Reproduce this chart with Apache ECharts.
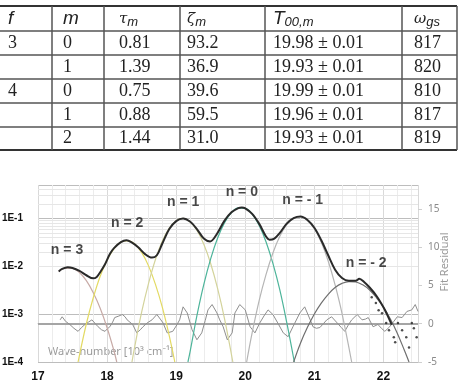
<!DOCTYPE html>
<html>
<head>
<meta charset="utf-8">
<script src="https://cdn.jsdelivr.net/npm/echarts@6/dist/echarts.min.js"></script>
<style>
html,body{margin:0;padding:0;background:#fff;}
#main{width:459px;height:390px;}
</style>
</head>
<body>
<div id="main"></div>
<script>
// ---- table values ----
var colF = ['3', '', '4', '', ''];
var colM = ['0', '1', '0', '1', '2'];
var colTau = ['0.81', '1.39', '0.75', '0.88', '1.44'];
var colZeta = ['93.2', '36.9', '39.6', '59.5', '31.0'];
var colT00 = ['19.98 \u00b1 0.01', '19.93 \u00b1 0.01', '19.99 \u00b1 0.01', '19.96 \u00b1 0.01', '19.93 \u00b1 0.01'];
var colOmega = ['817', '820', '810', '817', '819'];

// ---- spectrum (x = wave-number 10^3 cm-1) ----
var measured = [
  [17.30,0.0078],[17.35,0.0088],[17.43,0.0095],[17.50,0.0092],[17.60,0.0080],[17.70,0.0065],
  [17.80,0.0056],[17.85,0.0060],[17.90,0.0075],[17.97,0.0110],[18.04,0.0180],[18.10,0.0240],
  [18.20,0.0320],[18.28,0.0350],[18.35,0.0320],[18.45,0.0250],[18.55,0.0180],[18.65,0.0152],
  [18.72,0.0170],[18.80,0.0300],[18.90,0.0600],[19.00,0.0880],[19.10,0.1000],[19.20,0.0860],
  [19.30,0.0600],[19.40,0.0380],[19.49,0.0330],[19.58,0.0450],[19.70,0.0900],[19.80,0.1350],
  [19.90,0.1650],[19.95,0.1700],[20.00,0.1630],[20.10,0.1250],[20.20,0.0780],[20.30,0.0420],
  [20.35,0.0360],[20.42,0.0380],[20.50,0.0500],[20.60,0.0780],[20.70,0.1020],[20.80,0.1100],
  [20.90,0.0930],[21.00,0.0640],[21.10,0.0350],[21.20,0.0170],[21.30,0.0085],[21.40,0.0057],
  [21.50,0.0050],[21.60,0.0050],[21.65,0.0055],[21.72,0.0047],[21.80,0.0036],[21.90,0.0024],
  [22.00,0.0014],[22.05,0.0010],[22.12,0.0006]
];
var tailDots = [
  [21.83,0.00226],[21.89,0.0017],[21.93,0.0012],[21.98,0.00105],[22.04,0.00065],[22.08,0.00046],
  [22.15,0.00033],[22.17,0.00026],[22.21,0.00065],[22.27,0.00046],[22.33,0.00033],[22.37,0.0002],
  [22.41,0.00065],[22.44,0.00051],[22.48,0.00033]
];
var fitN3 = [
  [17.30,0.0078],[17.40,0.0092],[17.50,0.0090],[17.60,0.0074],[17.70,0.0050],[17.80,0.0028],
  [17.90,0.00133],[18.00,0.00052],[18.10,0.00017],[18.14,0.0001]
];
var fitN2 = [
  [17.58,0.0001],[17.70,0.00063],[17.80,0.0022],[17.90,0.0062],[18.00,0.0136],[18.10,0.0235],
  [18.20,0.0321],[18.30,0.0345],[18.40,0.0292],[18.50,0.0195],[18.60,0.0102],[18.70,0.0042],
  [18.80,0.00138],[18.90,0.00035],[18.98,0.0001]
];
var fitN1 = [
  [18.36,0.0001],[18.40,0.00021],[18.50,0.0011],[18.60,0.0044],[18.70,0.0139],[18.80,0.0336],
  [18.90,0.0627],[19.00,0.090],[19.10,0.100],[19.20,0.0855],[19.30,0.0565],[19.40,0.0288],
  [19.50,0.0113],[19.60,0.0034],[19.70,0.0008],[19.82,0.0001]
];
var fitN0 = [
  [19.17,0.0001],[19.20,0.00016],[19.30,0.00093],[19.40,0.0042],[19.50,0.0145],[19.60,0.039],
  [19.70,0.0817],[19.80,0.132],[19.90,0.166],[20.00,0.162],[20.10,0.123],[20.20,0.072],
  [20.30,0.0327],[20.40,0.0115],[20.50,0.0032],[20.60,0.00067],[20.71,0.0001]
];
var fitNm1 = [
  [20.02,0.0001],[20.10,0.00041],[20.20,0.0019],[20.30,0.0067],[20.40,0.019],[20.50,0.0425],
  [20.60,0.074],[20.70,0.101],[20.80,0.109],[20.90,0.092],[21.00,0.061],[21.10,0.0317],
  [21.20,0.0129],[21.30,0.0041],[21.40,0.00104],[21.54,0.0001]
];
var fitNm2 = [
  [20.70,0.0001],[20.80,0.00025],[20.90,0.00053],[21.00,0.00101],[21.10,0.0017],[21.20,0.0026],
  [21.30,0.0036],[21.40,0.0044],[21.50,0.0048],[21.60,0.0047],[21.70,0.0041],[21.80,0.0032],
  [21.90,0.0022],[22.00,0.0014],[22.10,0.00079],[22.20,0.0004],[22.30,0.00018],[22.37,0.0001]
];
var residual = [
  [17.32,0.5],[17.35,0.9],[17.40,0.3],[17.46,-0.1],[17.52,-0.6],[17.58,-1.0],[17.63,-0.5],
  [17.68,-0.1],[17.73,0.2],[17.78,0.5],[17.83,0.0],[17.87,-0.4],[17.92,-0.8],[17.97,-1.0],
  [18.00,-0.7],[18.04,-0.4],[18.08,0.2],[18.11,0.8],[18.17,1.0],[18.22,1.2],[18.26,0.9],
  [18.29,0.5],[18.33,0.2],[18.37,-0.1],[18.43,-1.2],[18.48,-0.8],[18.52,-0.4],[18.58,0.1],
  [18.65,0.5],[18.72,1.2],[18.77,0.6],[18.81,0.1],[18.87,-1.2],[18.91,-1.1],[18.95,-1.0],
  [19.00,-0.3],[19.05,0.5],[19.10,2.2],[19.16,1.4],[19.23,-0.8],[19.30,-2.1],[19.37,-1.2],
  [19.42,0.4],[19.46,1.8],[19.52,2.5],[19.59,1.4],[19.63,0.5],[19.68,-0.4],[19.74,-2.1],
  [19.81,-1.2],[19.85,1.4],[19.92,2.5],[20.00,1.8],[20.07,-0.4],[20.14,-1.2],[20.21,0.1],
  [20.27,1.0],[20.33,1.8],[20.40,1.2],[20.47,0.1],[20.55,-1.2],[20.62,-1.7],[20.69,-0.4],
  [20.79,1.4],[20.86,2.2],[20.94,0.5],[20.98,-0.4],[21.03,-0.6],[21.08,-0.5],[21.13,0.0],
  [21.18,0.5],[21.25,0.9],[21.33,0.1],[21.39,-0.5],[21.44,-1.0],[21.49,-0.2],[21.54,0.5],
  [21.62,1.2],[21.69,0.5],[21.74,0.6],[21.78,0.8],[21.85,-0.4],[21.92,-0.1],[21.97,-0.6],
  [22.02,-1.0],[22.09,-0.4],[22.15,0.3],[22.20,0.9],[22.27,0.8],[22.34,1.6],[22.41,1.8],
  [22.46,2.5],[22.50,1.6]
];
var peakLabels = [
  [17.42,0.0215,'n = 3'],[18.29,0.0787,'n = 2'],[19.10,0.215,'n = 1'],
  [19.95,0.348,'n = 0'],[20.83,0.237,'n = - 1'],[21.75,0.0115,'n = - 2']
];
// minor log grid values
var logMinor = [];
[1e-4, 1e-3, 1e-2, 1e-1].forEach(function (d) {
  for (var k = 2; k <= 9; k++) if (k * d < 0.5) logMinor.push(+(k * d).toPrecision(2));
});

// ---- table drawing ----
var colX = [8, 63, 119, 187, 273, 414];
var rowY = [43, 67, 91, 115, 138];
var hLines = [31, 55, 79, 103, 127];
var vLines = [52, 104, 180, 265, 402, 457];
var tbl = [];
var lineSt = {stroke: '#555', lineWidth: 1.5};
tbl.push({type: 'line', shape: {x1: 0, y1: 6, x2: 457, y2: 6}, style: {stroke: '#333', lineWidth: 2}});
tbl.push({type: 'line', shape: {x1: 0, y1: 150, x2: 457, y2: 150}, style: {stroke: '#333', lineWidth: 2}});
hLines.forEach(function (y) {
  tbl.push({type: 'line', shape: {x1: 0, y1: y, x2: 457, y2: y}, style: lineSt});
});
vLines.forEach(function (x) {
  tbl.push({type: 'line', shape: {x1: x, y1: 6, x2: x, y2: 150}, style: lineSt});
});
var sub = {fontFamily: 'Liberation Sans', fontStyle: 'italic', fontSize: 13, fill: '#222', verticalAlign: 'bottom', padding: [6, 0, 0, 0]};
var headers = [
  {text: '{a|f}', rich: {a: {fontFamily: 'Liberation Sans', fontStyle: 'italic', fontSize: 19, fill: '#222'}}},
  {text: '{a|m}', rich: {a: {fontFamily: 'Liberation Sans', fontStyle: 'italic', fontSize: 19, fill: '#222'}}},
  {text: '{a|\u03c4}{s|m}', rich: {a: {fontFamily: 'DejaVu Serif', fontStyle: 'italic', fontSize: 15, fill: '#222'}, s: sub}},
  {text: '{a|\u03b6}{s|m}', rich: {a: {fontFamily: 'DejaVu Serif', fontStyle: 'italic', fontSize: 15, fill: '#222'}, s: sub}},
  {text: '{a|T}{s|00,m}', rich: {a: {fontFamily: 'Liberation Sans', fontStyle: 'italic', fontSize: 19, fill: '#222'}, s: sub}},
  {text: '{a|\u03c9}{s|gs}', rich: {a: {fontFamily: 'DejaVu Serif', fontStyle: 'italic', fontSize: 15, fill: '#222'}, s: sub}}
];
headers.forEach(function (h, i) {
  tbl.push({type: 'text', x: colX[i], y: 19, style: {text: h.text, rich: h.rich, verticalAlign: 'middle'}});
});
[colF, colM, colTau, colZeta, colT00, colOmega].forEach(function (col, i) {
  col.forEach(function (v, r) {
    tbl.push({type: 'text', x: colX[i], y: rowY[r],
      style: {text: v, font: '18px "Liberation Serif"', fill: '#222', verticalAlign: 'middle'}});
  });
});
tbl.push({type: 'text', x: 48, y: 352, style: {text: 'Wave-number [10\u00b3 cm\u207b\u00b9]', font: '11px "Noto Sans"', fill: '#9a9a9a', verticalAlign: 'middle'}});
tbl.push({type: 'text', x: 445, y: 262, rotation: Math.PI / 2, style: {text: 'Fit Residual', font: '11px "Noto Sans"', fill: '#9a9a9a', align: 'center', verticalAlign: 'middle'}});

var myChart = echarts.init(document.getElementById('main'));

function fitLine(name, data, color, w) {
  return {name: name, type: 'line', data: data, smooth: 0.4, symbol: 'none', z: 3,
    lineStyle: {color: color, width: w || 1.2}};
}

option = {
  animation: false,
  backgroundColor: '#fff',
  graphic: tbl,
  grid: {left: 38, right: 41, top: 185, bottom: 28, containLabel: false, outerBoundsMode: 'none'},
  xAxis: {
    type: 'value', min: 17, max: 22.5, interval: 1,
    axisLine: {lineStyle: {color: '#c8c8c8'}},
    axisTick: {show: false},
    axisLabel: {color: '#111', fontWeight: 'bold', fontSize: 12, fontFamily: 'Liberation Sans', margin: 9, showMaxLabel: false},
    splitLine: {lineStyle: {color: '#d9d9d9'}},
    minorTick: {show: false, splitNumber: 5},
    minorSplitLine: {show: true, lineStyle: {color: '#ececec'}}
  },
  yAxis: [{
    type: 'log', logBase: 10, min: 1e-4, max: 0.5,
    axisLine: {show: false},
    axisTick: {show: false},
    axisLabel: {color: '#111', fontWeight: 'bold', fontSize: 10, fontFamily: 'Liberation Sans', margin: 15,
      formatter: function (v) {
        var e = Math.log10(v);
        if (Math.abs(e - Math.round(e)) > 1e-6) return '';
        return '1E' + Math.round(e);
      }},
    splitLine: {lineStyle: {color: '#bdbdbd'}}
  }, {
    type: 'value', position: 'right', min: -5, max: 18.1, interval: 5,
    axisLine: {show: false},
    axisTick: {show: true, length: 4, lineStyle: {color: '#cfcfcf'}},
    axisLabel: {color: '#8a8a8a', fontSize: 10, fontFamily: 'Noto Sans', margin: 10, showMaxLabel: false},
    splitLine: {show: false}
  }],
  series: [
    {type: 'line', data: [], z: 1, silent: true,
      markLine: {silent: true, z: 0, symbol: 'none', label: {show: false},
        lineStyle: {color: '#e6e6e6', width: 1, type: 'solid'},
        data: logMinor.map(function (v) { return {yAxis: v}; })}},
    {name: 'residual', type: 'line', yAxisIndex: 1, data: residual, symbol: 'none', z: 2,
      lineStyle: {color: '#8e8e8e', width: 1},
      markLine: {silent: true, z: 1, symbol: 'none', label: {show: false},
        lineStyle: {color: '#a5a5a5', width: 2, type: 'solid'}, data: [{yAxis: 0}]}},
    fitLine('n3', fitN3, '#c7aaa6'),
    fitLine('n2', fitN2, '#e3da63'),
    fitLine('n1', fitN1, '#d3d39b'),
    fitLine('n0', fitN0, '#4db49a'),
    fitLine('n-1', fitNm1, '#b5b5b5'),
    fitLine('n-2', fitNm2, '#6f6f6f'),
    {name: 'measured', type: 'line', data: measured, smooth: 0.35, symbol: 'none', z: 4,
      lineStyle: {color: '#2a2a2a', width: 2, type: 'solid'}},
    {name: 'tail', type: 'scatter', data: tailDots, symbolSize: 2.5, z: 4,
      itemStyle: {color: '#222'}},
    {name: 'labels', type: 'scatter', data: peakLabels, symbolSize: 1, z: 5, silent: true,
      itemStyle: {color: 'rgba(0,0,0,0)'},
      label: {show: true, position: 'inside', color: '#1a1a1a', fontWeight: 'bold', fontSize: 14,
        fontFamily: 'Liberation Sans', formatter: function (p) { return p.value[2]; }}}
  ]
};

myChart.setOption(option);
</script>
</body>
</html>
